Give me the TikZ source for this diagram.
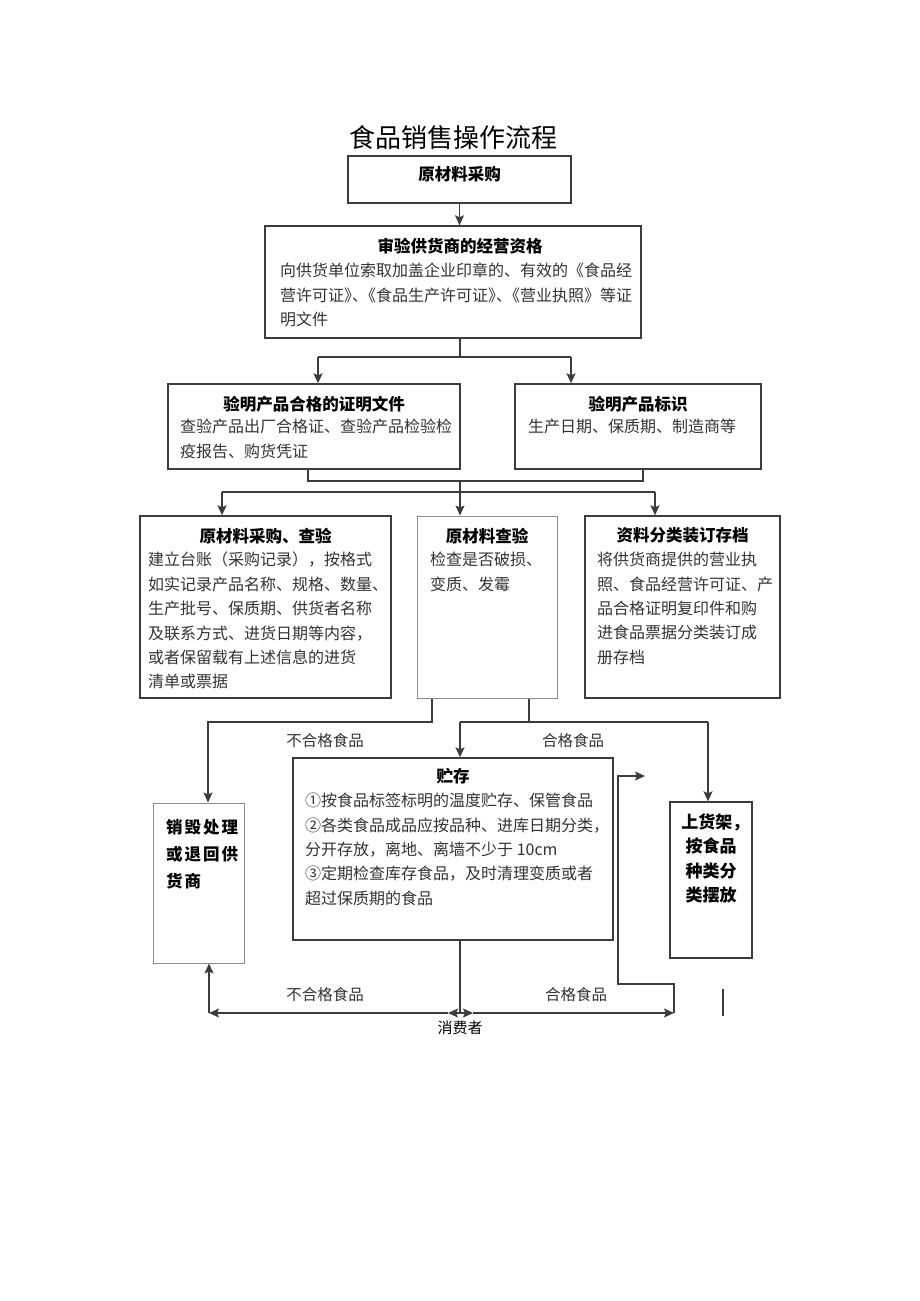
\documentclass[tikz,border=0pt]{standalone}
\usepackage{fontspec}
\setmainfont{Noto Sans CJK SC}
\usetikzlibrary{arrows.meta, positioning, calc}
\definecolor{BoxInk}{HTML}{3C3C3C}
\definecolor{PaleInk}{HTML}{8C8C8C}
\definecolor{BodyInk}{HTML}{333333}
\newcommand{\tight}[1]{{\addfontfeature{RawFeature=+halt}#1}}

\begin{document}
\begin{tikzpicture}[
    x=1pt, y=-1pt,
    frame/.style={draw=BoxInk, line width=1.4pt, inner sep=0pt},
    paleframe/.style={draw=PaleInk, line width=1pt, inner sep=0pt},
    head/.style={font=\fontsize{16.5}{20}\selectfont\bfseries, inner sep=0pt, anchor=north},
    body/.style={font=\fontsize{16}{24.4}\selectfont, text=BodyInk, align=left, inner sep=0pt, anchor=north west},
    link/.style={draw=BoxInk, line width=1.3pt},
    arr/.style={link, -{Stealth[length=10pt, width=9pt, inset=2pt]}},
    note/.style={font=\fontsize{15.5}{18}\selectfont, text=BodyInk, inner sep=0pt},
  ]
  \fill[white] (0,0) rectangle (920,1301);
  \useasboundingbox (0,0) rectangle (920,1301);

  \node[font=\fontsize{26}{30}\selectfont, inner sep=0pt] (title) at (453,138) {食品销售操作流程};

  % boxes
  \node[frame, minimum width=223pt, minimum height=47pt] (purchase) at (459.5,179.5) {};
  \node[head] (purchaseT) at (459.5,166.5) {原材料采购};

  \node[frame, minimum width=376pt, minimum height=112pt] (vetting) at (453,282) {};
  \node[head] (vettingT) at (460,237.5) {审验供货商的经营资格};
  \node[body] (vettingB) at (280,263) {向供货单位索取加盖企业印章的、有效的《食品经\\
    营许可证\tight{》、}《食品生产许可证\tight{》、}《营业执照》等证\\
    明文件};

  \node[frame, minimum width=292pt, minimum height=85pt] (certs) at (314,426.5) {};
  \node[head] (certsT) at (314,395.5) {验明产品合格的证明文件};
  \node[body] (certsB) at (180,419) {查验产品出厂合格证、查验产品检验检\\
    疫报告、购货凭证};

  \node[frame, minimum width=246pt, minimum height=85pt] (labels) at (638,426.5) {};
  \node[head] (labelsT) at (638,395.5) {验明产品标识};
  \node[body] (labelsB) at (528,419) {生产日期、保质期、制造商等};

  \node[frame, minimum width=251pt, minimum height=182pt] (ledger) at (265.5,607) {};
  \node[head] (ledgerT) at (265.5,527.5) {原材料采购、查验};
  \node[body] (ledgerB) at (148,552) {建立台账（采购记录），按格式\\
    如实记录产品名称、规格、数量、\\
    生产批号、保质期、供货者名称\\
    及联系方式、进货日期等内容，\\
    或者保留载有上述信息的进货\\
    清单或票据};

  \node[paleframe, minimum width=140pt, minimum height=182pt] (inspect) at (487,607) {};
  \node[head] (inspectT) at (487,527.5) {原材料查验};
  \node[body] (inspectB) at (430,552) {检查是否破损、\\
    变质、发霉};

  \node[frame, minimum width=195pt, minimum height=182pt] (archive) at (682.5,607) {};
  \node[head] (archiveT) at (682.5,527.5) {资料分类装订存档};
  \node[body] (archiveB) at (597,552) {将供货商提供的营业执\\
    照、食品经营许可证、产\\
    品合格证明复印件和购\\
    进食品票据分类装订成\\
    册存档};

  \node[paleframe, minimum width=91pt, minimum height=160pt] (reject) at (198.5,883) {};
  \node[head, anchor=north west, align=left,
    font=\fontsize{16.5}{27}\selectfont\bfseries\addfontfeature{LetterSpace=12}]
    (rejectT) at (166,819.5) {销毁处理\\或退回供\\货商};

  \node[frame, minimum width=320pt, minimum height=182pt] (storage) at (453,849) {};
  \node[head] (storageT) at (453,767.5) {贮存};
  \node[body] (storageB) at (305,793) {①按食品标签标明的温度贮存、保管食品\\
    ②各类食品成品应按品种、进库日期分类，\\
    分开存放，离地、离墙不少于 10cm\\
    ③定期检查库存食品，及时清理变质或者\\
    超过保质期的食品};

  \node[frame, minimum width=82pt, minimum height=156pt] (shelf) at (711,880) {};
  \node[head, align=center, font=\fontsize{17}{24.4}\selectfont\bfseries]
    (shelfT) at (711,813.5) {上货架\tight{，}\\按食品\\种类分\\类摆放};

  % connectors, top part
  \draw[arr] (purchase.south) -- (purchase.south |- vetting.north);
  \coordinate (fork1) at (460,357);
  \coordinate (fork1L) at (318,357);
  \coordinate (fork1R) at (571,357);
  \draw[link] (fork1 |- vetting.south) -- (fork1);
  \draw[link] (fork1L) -- (fork1R);
  \draw[arr] (fork1L) -- (fork1L |- certs.north);
  \draw[arr] (fork1R) -- (fork1R |- labels.north);

  \coordinate (mergeL) at (308,481);
  \coordinate (mergeR) at (643,481);
  \coordinate (mergeC) at (460,481);
  \draw[link] (mergeL |- certs.south) -- (mergeL) -- (mergeR) -- (mergeR |- labels.south);
  \coordinate (fork2) at (460,492);
  \coordinate (fork2L) at (222,492);
  \coordinate (fork2R) at (655,492);
  \draw[link] (mergeC) -- (fork2);
  \draw[link] (fork2L) -- (fork2R);
  \draw[arr] (fork2L) -- (fork2L |- ledger.north);
  \draw[arr] (fork2) -- (fork2 |- inspect.north);
  \draw[arr] (fork2R) -- (fork2R |- archive.north);

  % inspection result
  \coordinate (failL) at (432,722);
  \coordinate (failTurn) at (208,722);
  \draw[arr] (failL |- inspect.south) -- (failL) -- (failTurn) -- (failTurn |- reject.north);
  \coordinate (passR) at (529,722);
  \coordinate (passL) at (460,722);
  \coordinate (passEnd) at (708,722);
  \draw[link] (passR |- inspect.south) -- (passR);
  \draw[link] (passL) -- (passEnd);
  \draw[arr] (passL) -- (passL |- storage.north);
  \draw[arr] (passEnd) -- (passEnd |- shelf.north);
  \node[note] (failNote) at (325,741) {不合格食品};
  \node[note] (passNote) at (573,741) {合格食品};

  % consumer
  \coordinate (consumer) at (460,1013);
  \node[font=\fontsize{15}{18}\selectfont, inner sep=0pt] (consumerT) at (460,1028) {消费者};
  \draw[link] (consumer |- storage.south) -- (consumer);
  \draw[arr] (consumer) -- ++(-12,0) coordinate (backL);
  \coordinate (returnCorner) at (209,1013);
  \draw[arr] (backL) -- (returnCorner);
  \draw[arr] (returnCorner) -- (returnCorner |- reject.south);
  \draw[arr] (consumer) -- ++(13,0) coordinate (backR);
  \coordinate (sellCorner) at (674,1013);
  \draw[arr] (backR) -- (sellCorner);
  \draw[arr] (sellCorner) -- ++(0,-29) -- ++(-56,0) -- ++(0,-208) -- ++(27,0);
  \draw[link] ([xshift=12pt, yshift=-30pt]shelf.south) -- ++(0,27);
  \node[note] (failNote2) at (325,995) {不合格食品};
  \node[note] (passNote2) at (576,995) {合格食品};
\end{tikzpicture}
\end{document}
